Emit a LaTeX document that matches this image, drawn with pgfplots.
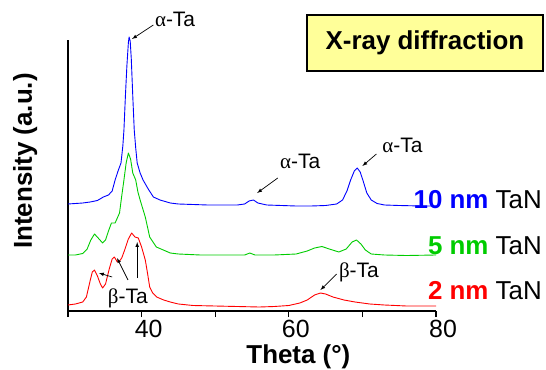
\documentclass[border=0pt]{standalone}
\usepackage{pgfplots}
\pgfplotsset{compat=1.18}
\usepackage{fontspec}
\setmainfont{Liberation Sans}
\newfontfamily\greekfont{Liberation Serif}
\newcommand{\phase}[1]{{\greekfont #1}-Ta}
\definecolor{xgreen}{RGB}{0,204,0}
\definecolor{boxyellow}{RGB}{255,255,153}
\tikzset{
  annot/.style={anchor=base west, font=\fontsize{21}{21}\selectfont, inner sep=0},
  pointer/.style={-latex, line width=0.7bp},
}

\begin{document}
\begin{tikzpicture}[x=1bp,y=1bp]
\useasboundingbox (0,0) rectangle (546,369);
\begin{axis}[
  at={(68bp,58bp)}, anchor=south west,
  scale only axis, width=368bp, height=271bp,
  xmin=30, xmax=80, ymin=0, ymax=271,
  axis lines*=left,
  axis line style={line width=1.6bp, black},
  ytick=\empty,
  xtick={30,40,...,80},
  xticklabels={,40,,60,,80},
  tick align=outside,
  major tick length=6bp,
  xtick style={line width=1.2bp, black},
  xticklabel style={font=\fontsize{25}{25}\selectfont, xshift=7bp},
  /pgf/number format/assume math mode=true,
  clip=false,
  every axis plot/.append style={line width=0.9bp, line join=round},
]

% 10 nm TaN
\addplot[blue] coordinates {
(30,107)(31,107.5)(32,108)(33,109)(34,110.5)(34.8,114)(35.5,116)(36,120)(36.4,131)
(36.8,140)(37.2,148)(37.45,165)(37.6,181)(37.8,215)(38.0,245)(38.2,268)(38.3,274)
(38.45,270)(38.6,252)(38.8,215)(39.0,181)(39.2,163)(39.4,148)(39.8,138)(40.2,131)
(40.9,122)(41.6,114)(42.5,111)(43.9,108)(45,107)(47,106.5)(49,106)(51,106)(53,106)
(54,107)(54.6,110)(55.2,111)(55.8,108)(57,106)(59,105.5)(61,105)(63,105)(65,105.5)
(66.5,107)(67.3,111)(67.9,120)(68.4,131)(68.9,140)(69.3,143)(69.7,139)(70.1,130)
(70.6,118)(71.2,111)(72,107.5)(73,106)(75,105.5)(78,105)(80,105)
};

% 5 nm TaN
\addplot[xgreen] coordinates {
(30,56)(31,56)(32,57.5)(32.6,62)(33.1,71)(33.6,77)(34.1,73)(34.7,68)(35.1,71)
(35.5,80)(35.9,88)(36.4,88)(37.0,98)(37.3,115)(37.6,131)(37.9,148)(38.2,158)
(38.5,152)(38.8,138)(39.2,131)(39.5,119)(39.8,111)(40.5,94)(41.1,74)(42.0,64)
(43.9,58)(45,57)(48,56)(52,56)(54,56)(54.7,58)(55.4,56)(58,56)(61,57)(62.5,60)
(63.5,63)(64.5,64.5)(65.5,62)(66.8,59)(67.8,62)(68.6,69)(69.2,71)(69.8,67)
(70.4,61)(71.2,57)(73,56)(76,55.5)(80,56)
};

% 2 nm TaN
\addplot[red] coordinates {
(30,6)(31,7)(32,9)(32.5,14)(33.0,30)(33.3,39)(33.6,41)(34.0,35)(34.4,27)(34.7,23)
(35.1,27)(35.6,42)(36.0,52)(36.3,54)(36.7,49)(37.0,50)(37.3,53)(37.7,61)(38.2,72)
(38.65,78)(39.1,74)(39.55,73)(40.0,64)(40.5,51)(40.8,38)(41.1,24)(41.5,18)(42.05,14)
(43.0,11)(43.9,9)(45,7)(47,5.5)(50,5)(53,4.5)(56,4)(58,4.5)(60,5.5)(61.5,8)(62.5,11)
(63.5,16)(64.3,18)(65,17)(66,14)(67.5,11)(69,9)(71,7)(73,6)(76,5)(80,5)
};

% phase annotations
\node[annot] at (axis cs:41.8,284) {\phase{α}};
\draw[pointer] (axis cs:41.6,286) -- (axis cs:38.7,272);

\node[annot] at (axis cs:58.8,143) {\phase{α}};
\draw[pointer] (axis cs:58.5,133) -- (axis cs:55.7,118);

\node[annot] at (axis cs:72.7,158) {\phase{α}};
\draw[pointer] (axis cs:71.9,157) -- (axis cs:70.0,145);

\node[annot] at (axis cs:66.8,34) {\phase{β}};
\draw[pointer] (axis cs:66.5,37) -- (axis cs:64.3,21);

\node[annot] at (axis cs:35.4,8) {\phase{β}};
\draw[pointer] (axis cs:36.0,34) -- (axis cs:34.2,38);
\draw[pointer] (axis cs:38.15,31) -- (axis cs:36.66,53);
\draw[pointer] (axis cs:39.4,33) -- (axis cs:39.4,69);

% sample labels
\node[anchor=base east, font=\fontsize{26}{26}\selectfont, inner sep=0] at (axis cs:94.4,103) {\textbf{\color{blue}10 nm} TaN};
\node[anchor=base east, font=\fontsize{26}{26}\selectfont, inner sep=0] at (axis cs:94.4,57) {\textbf{\color{xgreen}5 nm} TaN};
\node[anchor=base east, font=\fontsize{26}{26}\selectfont, inner sep=0] at (axis cs:94.4,12) {\textbf{\color{red}2 nm} TaN};

% title box
\draw[line width=1.6bp, fill=boxyellow] (axis cs:62.47,240) rectangle (axis cs:94.54,296);
\node[font=\fontsize{26}{26}\selectfont\bfseries] at (axis cs:78.5,268) {X-ray diffraction};

% axis titles
\node[anchor=base, font=\fontsize{26}{26}\selectfont\bfseries, inner sep=0] at (axis cs:61.3,-52) {Theta (°)};
\node[anchor=base, rotate=90, font=\fontsize{26}{26}\selectfont\bfseries, inner sep=0] at (axis cs:25.1,150) {Intensity (a.u.)};
\end{axis}
\end{tikzpicture}
\end{document}
